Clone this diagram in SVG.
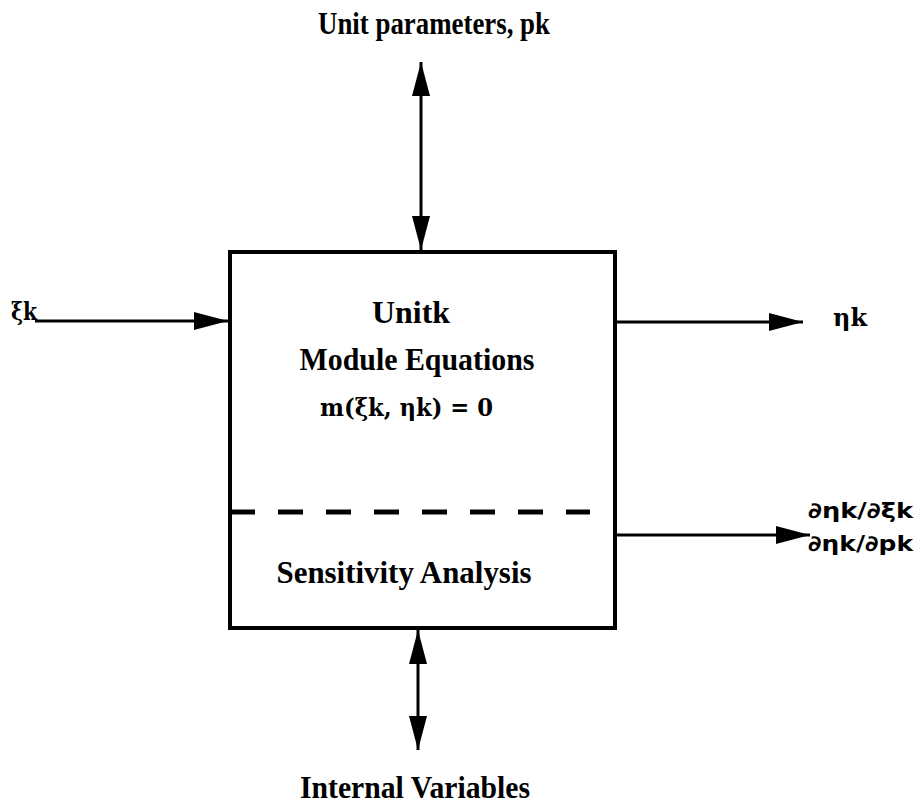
<svg xmlns="http://www.w3.org/2000/svg" width="920" height="807" viewBox="0 0 920 807">
<defs>
<style>
.t{font-family:"Liberation Serif","Times New Roman",serif;font-weight:bold;fill:#000;font-size:31px}
.m{font-family:"DejaVu Serif",serif;font-weight:bold;fill:#000;font-size:25px}
.s{font-family:"DejaVu Sans",sans-serif;font-weight:bold;fill:#000;font-size:22px}
.ln{stroke:#000;stroke-width:3;fill:none}
</style>
<marker id="ah" viewBox="0 0 34 18" refX="34" refY="9" markerWidth="34" markerHeight="18" markerUnits="userSpaceOnUse" orient="auto-start-reverse">
<path d="M0,0 L34,9 L0,18 Z" fill="#000"/>
</marker>
</defs>
<rect width="920" height="807" fill="#fff"/>
<g id="unit">
<rect x="230" y="252" width="385" height="376" fill="none" stroke="#000" stroke-width="4"/>
<line x1="230" y1="512" x2="590" y2="512" stroke="#000" stroke-width="5" stroke-dasharray="25,23"/>
<text class="t" x="411" y="323" text-anchor="middle" textLength="78" lengthAdjust="spacingAndGlyphs">Unitk</text>
<text class="t" x="417" y="370" text-anchor="middle" textLength="235" lengthAdjust="spacingAndGlyphs">Module Equations</text>
<text class="m" x="320" y="416" textLength="173" lengthAdjust="spacingAndGlyphs">m(ξk, ηk) = 0</text>
<text class="t" x="404" y="583" text-anchor="middle" textLength="255" lengthAdjust="spacingAndGlyphs">Sensitivity Analysis</text>
</g>
<g id="labels">
<text class="t" x="318" y="34" textLength="232" lengthAdjust="spacingAndGlyphs">Unit parameters, pk</text>
<text class="t" x="300" y="798" textLength="230" lengthAdjust="spacingAndGlyphs">Internal Variables</text>
<text class="m" x="11" y="320" textLength="26" lengthAdjust="spacingAndGlyphs">ξk</text>
<text class="m" x="833" y="326" textLength="34" lengthAdjust="spacingAndGlyphs">ηk</text>
<text class="s" x="808" y="518" textLength="105" lengthAdjust="spacingAndGlyphs">∂ηk/∂ξk</text>
<text class="s" x="808" y="551" textLength="105" lengthAdjust="spacingAndGlyphs">∂ηk/∂pk</text>
</g>
<g id="connectors">
<line class="ln" x1="421" y1="62" x2="421" y2="250" marker-start="url(#ah)" marker-end="url(#ah)"/>
<line class="ln" x1="418" y1="630" x2="418" y2="750" marker-start="url(#ah)" marker-end="url(#ah)"/>
<line class="ln" x1="35" y1="321" x2="228" y2="321" marker-end="url(#ah)"/>
<line class="ln" x1="615" y1="322" x2="803" y2="322" marker-end="url(#ah)"/>
<line class="ln" x1="615" y1="535" x2="810" y2="535" marker-end="url(#ah)"/>
</g>
</svg>
